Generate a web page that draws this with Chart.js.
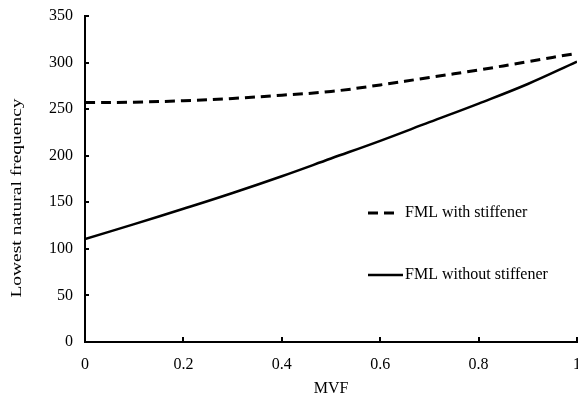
<!DOCTYPE html>
<html>
<head>
<meta charset="utf-8">
<script src="https://cdn.jsdelivr.net/npm/chart.js@4"></script>
<style>
  html, body { margin: 0; padding: 0; background: #fff; overflow: hidden; }
  #wrap { width: 578px; height: 398px; }
</style>
</head>
<body>
<div id="wrap"><canvas id="myChart" width="578" height="398"></canvas></div>
<script>
// data
const mvf = [0, 0.1, 0.2, 0.3, 0.4, 0.5, 0.6, 0.7, 0.8, 0.9, 1];
const withStiffener = [257, 257.5, 259, 261.5, 265, 269, 276, 284, 292, 301, 310];
const withoutStiffener = [110.5, 126.5, 143, 160, 178, 197, 216, 236, 256, 277, 301];
const seriesNames = ['FML with stiffener', 'FML without stiffener'];
const yTitle = 'Lowest natural frequency';

const serif = 'Liberation Serif, Times New Roman, serif';

function toPoints(xs, ys) {
    return xs.map((x, i) => ({ x: x, y: ys[i] }));
}

// small inward tick marks on both axes
const innerTicks = {
    id: 'innerTicks',
    afterDraw(chart) {
        const c = chart.ctx;
        const xs = chart.scales.x, ys = chart.scales.y;
        const area = chart.chartArea;
        c.save();
        c.strokeStyle = '#000';
        c.lineWidth = 2;
        xs.ticks.forEach(t => {
            const px = Math.round(xs.getPixelForValue(t.value));
            c.beginPath();
            c.moveTo(px, area.bottom);
            c.lineTo(px, area.bottom - 5);
            c.stroke();
        });
        ys.ticks.forEach(t => {
            const py = Math.round(ys.getPixelForValue(t.value));
            c.beginPath();
            c.moveTo(area.left, py);
            c.lineTo(area.left + 4, py);
            c.stroke();
        });
        c.restore();
    }
};

// y title is a bit stretched and sits lower than the axis middle in the original
const yTitlePlugin = {
    id: 'yTitlePlugin',
    afterDraw(chart) {
        const c = chart.ctx;
        c.save();
        c.translate(17, 198);
        c.rotate(-Math.PI / 2);
        c.scale(1.3, 1);
        c.fillStyle = '#000';
        c.font = '15px ' + serif;
        c.textAlign = 'center';
        c.textBaseline = 'middle';
        c.fillText(yTitle, 0, 0);
        c.restore();
    }
};

// legend drawn inside the plot
const insideLegend = {
    id: 'insideLegend',
    afterDraw(chart) {
        const c = chart.ctx;
        const rows = [
            { y: 213, x0: 368, x1: 395 },
            { y: 275, x0: 368, x1: 403 }
        ];
        c.save();
        chart.data.datasets.forEach((ds, i) => {
            const r = rows[i];
            c.strokeStyle = ds.borderColor;
            c.lineWidth = ds.borderWidth;
            c.setLineDash(ds.borderDash || []);
            c.beginPath();
            c.moveTo(r.x0, r.y);
            c.lineTo(r.x1, r.y);
            c.stroke();
            c.setLineDash([]);
            c.fillStyle = '#000';
            c.font = '16px ' + serif;
            c.textBaseline = 'middle';
            c.textAlign = 'left';
            c.fillText(ds.label, 405, r.y);
        });
        c.restore();
    }
};

const ctx = document.getElementById('myChart').getContext('2d');

const myChart = new Chart(ctx, {
    type: 'line',
    data: {
        datasets: [
            {
                label: seriesNames[0],
                data: toPoints(mvf, withStiffener),
                borderColor: '#000',
                borderWidth: 3,
                borderDash: [10, 6],
                pointRadius: 0,
                tension: 0.4,
                fill: false
            },
            {
                label: seriesNames[1],
                data: toPoints(mvf, withoutStiffener),
                borderColor: '#000',
                borderWidth: 2.5,
                pointRadius: 0,
                tension: 0.4,
                fill: false
            }
        ]
    },
    options: {
        responsive: false,
        animation: false,
        layout: { padding: { top: 16, right: 1, left: 0, bottom: 0 } },
        plugins: {
            legend: { display: false },
            tooltip: { enabled: false }
        },
        scales: {
            x: {
                type: 'linear',
                min: 0,
                max: 1,
                ticks: {
                    stepSize: 0.2,
                    color: '#000',
                    padding: 13,
                    maxRotation: 0,
                    font: { family: serif, size: 16 },
                    callback: v => String(Math.round(v * 10) / 10)
                },
                grid: { drawOnChartArea: false, drawTicks: false },
                border: { color: '#000', width: 2 },
                title: {
                    display: true,
                    text: 'MVF',
                    color: '#000',
                    font: { family: serif, size: 16 },
                    padding: { top: 0, bottom: 0 }
                },
                afterFit(scale) {
                    scale.height = 56;
                    scale.paddingRight = 0;
                    scale.paddingLeft = 0;
                }
            },
            y: {
                min: 0,
                max: 350,
                ticks: {
                    stepSize: 50,
                    color: '#000',
                    padding: 12,
                    font: { family: serif, size: 16 }
                },
                grid: { drawOnChartArea: false, drawTicks: false },
                border: { color: '#000', width: 2 },
                title: { display: false },
                afterFit(scale) {
                    scale.width = 85;
                    scale.paddingTop = 0;
                    scale.paddingBottom = 0;
                }
            }
        }
    },
    plugins: [innerTicks, yTitlePlugin, insideLegend]
});
</script>
</body>
</html>
